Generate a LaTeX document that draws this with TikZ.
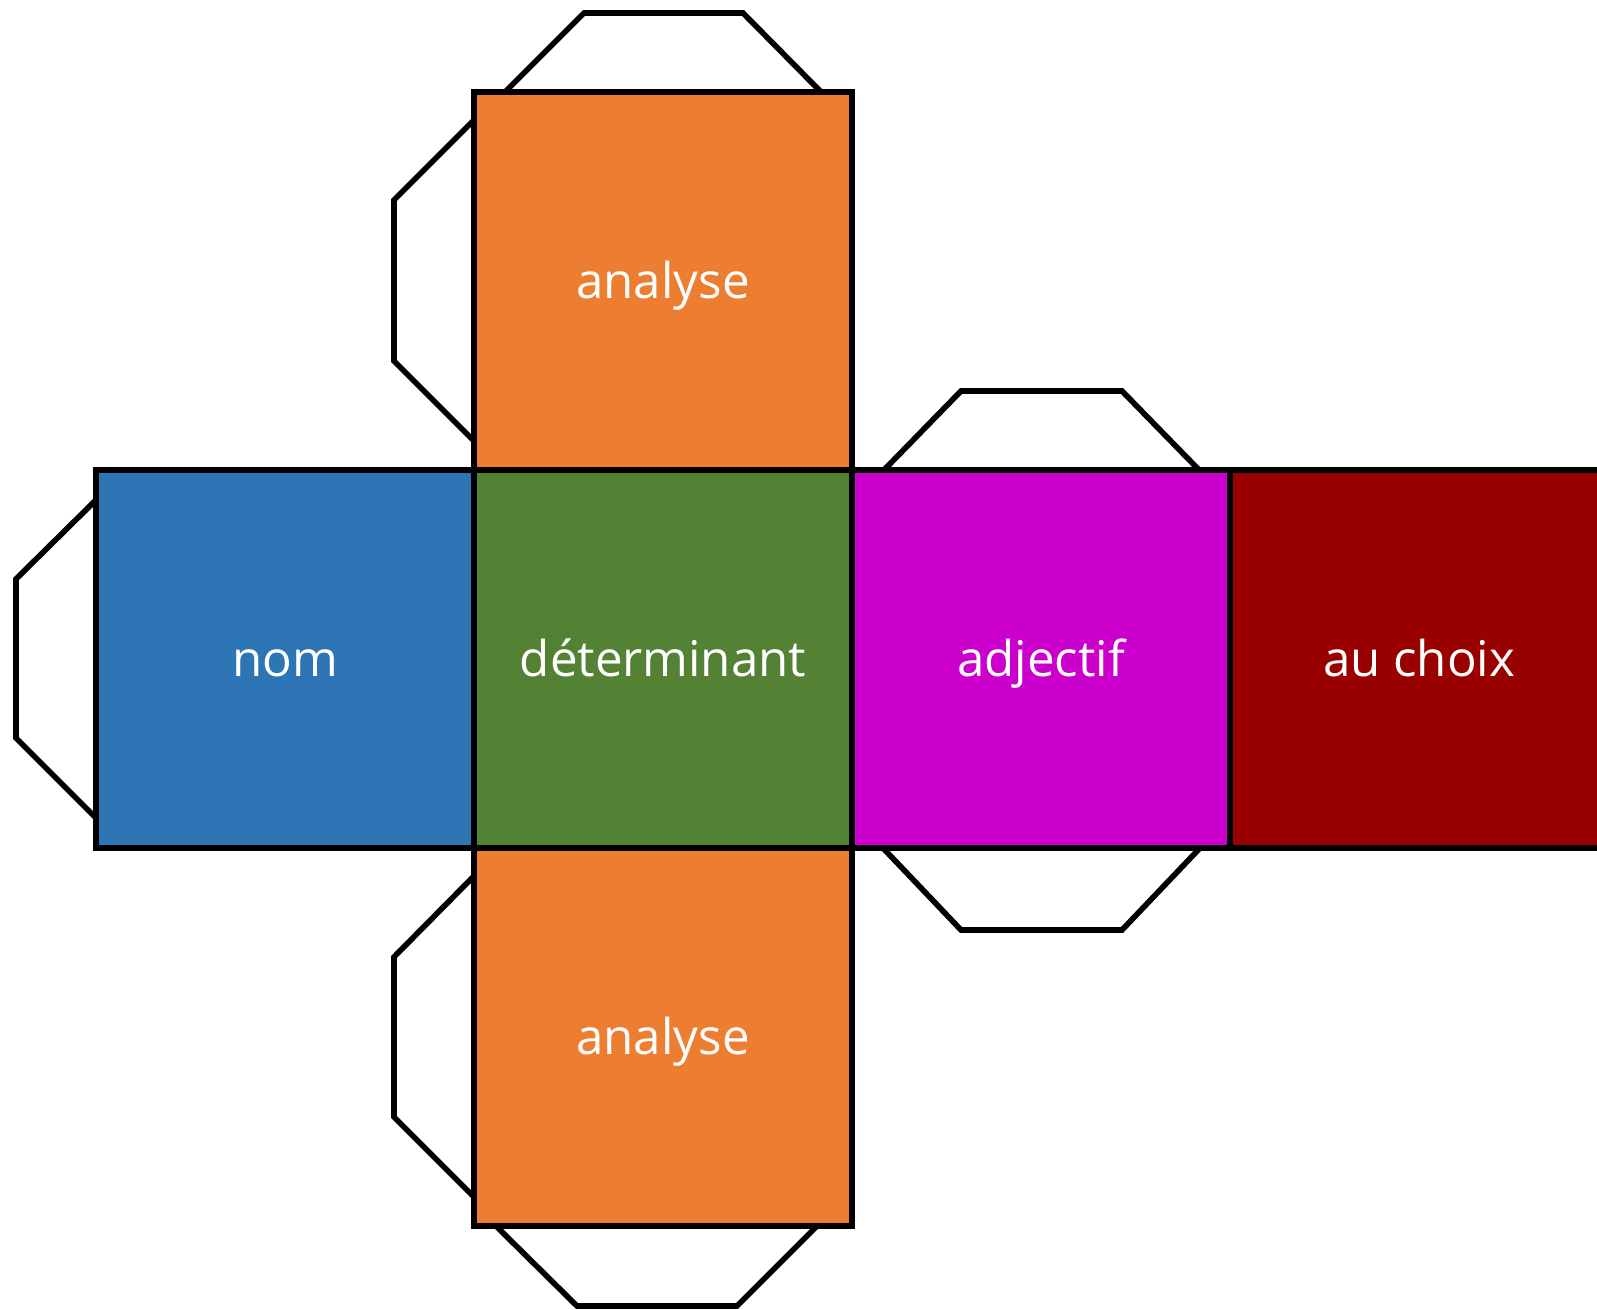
\documentclass[tikz,border=0pt]{standalone}
\usepackage{fontspec}
\setmainfont{Open Sans}
\definecolor{faceorange}{HTML}{ED7D31}
\definecolor{faceblue}{HTML}{2E75B6}
\definecolor{facegreen}{HTML}{548235}
\definecolor{facemagenta}{HTML}{CC00CC}
\definecolor{facered}{HTML}{990000}
\tikzset{
  face/.style={draw=black, line width=1.6pt, minimum width=3.78cm, minimum height=3.78cm,
    inner sep=0pt, text height=14pt, text depth=4pt, text=white,
    font=\fontsize{14}{16}\selectfont},
  flap/.style={draw=black, line width=1.6pt, line join=miter}
}

\begin{document}
\begin{tikzpicture}[x=0.01cm, y=-0.01cm]
          \clip (0,0) rectangle (1597,1310);

          \draw[flap] (505,92) -- (584,13) -- (743,13) -- (821,92);
          \draw[flap] (474,120) -- (394,200) -- (394,361) -- (474,441);
          \draw[flap] (96,500) -- (16,579) -- (16,738) -- (96,818);
          \draw[flap] (883,471) -- (961,391) -- (1122,391) -- (1200,471);
          \draw[flap] (883,848) -- (961,930) -- (1122,930) -- (1200,848);
          \draw[flap] (474,876) -- (394,957) -- (394,1117) -- (474,1197);
          \draw[flap] (496,1226) -- (577,1306) -- (737,1306) -- (817,1226);

          \node[face, fill=faceorange] (haut) at (663,281) {analyse};
          \node[face, fill=faceblue] (nom) at (285,659) {nom};
          \node[face, fill=facegreen] (det) at (663,659) {déterminant};
          \node[face, fill=facemagenta] (adj) at (1041,659) {adjectif};
          \node[face, fill=facered] (choix) at (1419,659) {au choix};
          \node[face, fill=faceorange] (bas) at (663,1037) {analyse};
        \end{tikzpicture}
\end{document}
